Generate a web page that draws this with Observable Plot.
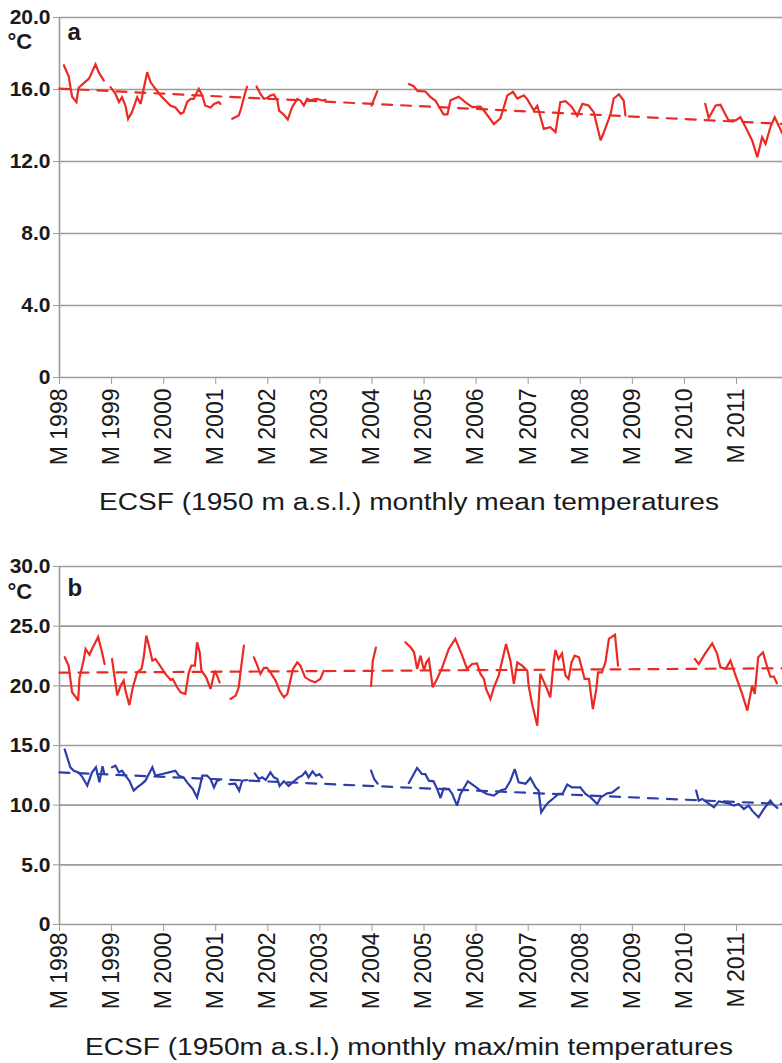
<!DOCTYPE html>
<html><head><meta charset="utf-8">
<script src="https://cdn.jsdelivr.net/npm/d3@7"></script>
<script src="https://cdn.jsdelivr.net/npm/@observablehq/plot@0.6"></script>
<style>
body{margin:0;background:#fff;font-family:"Liberation Sans",Arial,sans-serif;}
#chart{width:782px;}
#chart svg{display:block;}
</style></head><body><div id="chart"></div>
<script>
// x positions are months counted from M 1998
const tickMonths = [0,12,24,36,48,60,72,84,96,108,120,132,144,156];
const tickLabels = ["M 1998","M 1999","M 2000","M 2001","M 2002","M 2003","M 2004","M 2005","M 2006","M 2007","M 2008","M 2009","M 2010","M 2011"];

// panel a: monthly mean temperature [month, °C]; null = gap in record
const meanPoints = [
[1.0,17.35],[2.1,16.75],[2.9,15.6],[3.9,15.3],[4.4,16.1],[5.6,16.35],[6.8,16.6],[8.3,17.4],[9.05,16.95],[10.2,16.5], null,
[11.75,16.13],[12.9,15.76],[13.7,15.3],[14.4,15.57],[15.2,15.1],[15.8,14.37],[16.7,14.74],[17.9,15.57],[18.7,15.2],[19.4,16.04],[20.2,16.96],[21.0,16.4],[22.1,16.04],[23.3,15.67],[24.4,15.39],[25.6,15.1],[26.7,15.0],[27.9,14.65],[28.6,14.74],[29.4,15.3],[30.2,15.48],[30.9,15.48],[32.1,16.04],[32.9,15.67],[33.6,15.1],[34.8,15.0],[35.6,15.2],[36.7,15.3],[37.1,15.2], null,
[39.8,14.37],[41.3,14.56],[41.8,14.9],[42.5,15.57],[43.2,16.15], null,
[45.4,16.17],[46.3,15.76],[47.1,15.48],[47.9,15.53],[48.6,15.67],[49.4,15.72],[50.2,15.39],[50.6,14.83],[51.7,14.6],[52.6,14.33],[53.6,15.02],[54.8,15.48],[55.5,15.39],[56.3,15.11],[57.1,15.48],[57.8,15.39],[58.6,15.45],[59.4,15.48],[60.5,15.39],[61.3,15.43], null,
[71.9,15.1],[73.2,15.9], null,
[80.5,16.3],[81.6,16.18],[82.5,15.92],[84.3,15.89],[85.5,15.57],[86.6,15.39],[88.5,14.62],[89.4,14.62],[90.1,15.4],[92.0,15.6],[93.5,15.3],[95.1,15.02],[97.0,15.05],[97.8,14.83],[100.1,14.08],[101.6,14.4],[103.2,15.67],[104.5,15.87],[105.5,15.5],[107.0,15.68],[107.8,15.45],[109.3,14.83],[110.1,15.1],[111.6,13.81],[113.1,13.9],[114.3,13.63],[115.4,15.3],[116.6,15.35],[118.0,15.05],[119.3,14.54],[120.5,15.2],[121.9,15.11],[123.1,14.74],[124.7,13.17],[125.8,13.85],[127.0,14.65],[127.7,15.5],[128.9,15.73],[130.0,15.39],[130.4,14.56], null,
[148.8,15.2],[149.6,14.42],[151.2,15.11],[152.3,15.15],[153.5,14.59],[154.2,14.28],[155.8,14.28],[156.9,14.46],[158.1,13.9],[159.6,13.17],[160.8,12.24],[161.9,13.35],[162.7,12.98],[163.8,13.9],[164.8,14.46],[165.7,14.0],[166.6,13.54]
];
const meanTrend = [[0,16.05],[166.6,14.09]];

// panel b: monthly maximum temperature
const maxPoints = [
[1.2,22.4],[2.1,21.7],[2.9,19.46],[3.8,19.04],[4.3,18.76],[4.6,20.65],[5.6,22.2],[6.0,23.09],[6.9,22.6],[7.5,23.09],[8.9,24.1],[9.8,22.81],[10.4,21.83], null,
[12.1,22.25],[12.7,20.71],[13.3,19.2],[14.1,20.02],[14.8,20.44],[15.2,19.6],[16.1,18.38],[16.9,19.88],[17.9,21.13],[18.9,21.42],[19.4,22.39],[20.0,24.21],[20.6,23.37],[21.4,22.11],[22.1,22.25],[23.3,21.62],[24.4,21.0],[25.6,20.49],[26.1,20.58],[27.1,19.88],[27.9,19.46],[29.0,19.32],[29.8,21.13],[30.4,21.69],[31.2,21.69],[31.7,23.65],[32.3,22.81],[32.7,21.27],[33.8,20.71],[34.8,19.74],[35.8,21.27],[36.3,20.86],[36.9,20.29], null,
[39.4,18.9],[40.6,19.18],[41.3,19.88],[41.7,21.13],[42.5,23.37], null,
[44.8,22.39],[45.5,21.78],[46.3,21.0],[47.1,21.5],[47.8,21.5],[48.6,21.13],[49.8,20.44],[50.7,19.6],[51.7,19.04],[52.5,19.32],[53.2,20.44],[53.8,21.42],[54.8,21.97],[55.5,21.69],[56.6,20.71],[57.8,20.44],[58.9,20.29],[60.1,20.58],[60.9,21.27], null,
[71.8,20.0],[72.2,22.1],[72.9,23.2], null,
[79.7,23.65],[80.9,23.23],[81.7,22.81],[82.4,21.42],[83.2,22.53],[84.0,21.27],[84.5,21.97],[85.1,22.25],[86.0,19.88],[87.0,20.58],[88.2,21.55],[89.7,23.09],[91.2,23.93],[92.8,22.53],[93.9,21.42],[95.1,21.83],[96.2,21.88],[97.0,21.0],[97.8,20.58],[98.3,19.74],[99.3,18.9],[100.1,19.88],[101.2,20.86],[102.0,22.11],[102.9,23.51],[103.9,22.11],[104.7,20.16],[105.5,21.97],[106.6,21.69],[107.8,21.27],[108.1,20.02],[108.9,18.48],[110.1,16.66],[110.8,21.0],[112.0,20.02],[113.1,19.04],[113.9,22.11],[114.3,23.0],[115.0,22.25],[115.8,22.72],[116.6,20.86],[117.3,20.58],[118.0,21.97],[118.7,22.53],[119.7,22.39],[120.4,21.42],[121.0,20.58],[122.0,20.58],[122.9,18.06],[123.7,19.74],[124.1,21.13],[125.0,21.13],[125.8,21.97],[126.6,23.93],[128.0,24.29],[128.7,21.69], null,
[146.4,22.25],[147.3,21.83],[148.8,22.72],[150.4,23.56],[151.5,22.72],[152.3,21.55],[153.5,21.42],[154.6,22.11],[155.8,20.86],[157.3,19.32],[158.5,17.92],[159.6,20.02],[160.2,19.32],[161.0,22.39],[162.1,22.81],[163.1,21.55],[163.8,20.77],[164.6,20.77],[165.3,20.21]
];
const maxTrend = [[0,21.1],[166.6,21.47]];

// panel b: monthly minimum temperature
const minPoints = [
[1.2,14.67],[2.5,13.17],[3.3,12.89],[4.4,12.75],[5.2,12.4],[6.4,11.63],[7.5,12.75],[8.4,13.17],[9.2,11.91],[9.9,13.27],[10.3,12.67], null,
[12.1,13.17],[12.9,13.31],[13.7,12.75],[14.4,12.89],[15.2,12.47],[16.1,12.05],[17.1,11.22],[17.9,11.49],[18.9,11.77],[19.8,12.05],[20.6,12.61],[21.4,13.17],[22.1,12.47],[23.7,12.61],[25.2,12.75],[26.7,12.89],[27.5,12.47],[28.6,12.33],[29.4,11.91],[30.7,11.36],[31.7,10.65],[32.3,11.49],[32.9,12.47],[34.0,12.47],[34.8,12.19],[35.6,11.49],[36.3,12.05],[36.8,12.1], null,
[39.1,11.77],[40.5,11.8],[41.4,11.22],[42.1,12.05],[43.2,12.11], null,
[45.0,12.67],[45.9,12.19],[46.7,12.33],[47.5,12.11],[48.6,12.75],[49.4,12.33],[50.2,12.19],[50.7,11.6],[51.7,12.0],[52.8,11.6],[54.0,12.0],[55.1,12.33],[55.9,12.47],[56.7,12.8],[57.4,12.33],[58.3,12.83],[59.1,12.47],[59.9,12.6],[60.5,12.33], null,
[71.8,12.9],[72.5,12.2],[73.3,11.8], null,
[80.5,11.85],[82.4,13.12],[83.5,12.61],[84.3,12.6],[85.1,12.05],[86.2,12.0],[87.0,11.36],[87.8,10.6],[88.5,11.4],[89.7,11.36],[90.5,10.94],[91.6,9.96],[92.4,10.94],[94.1,12.0],[95.5,11.63],[97.0,11.22],[98.5,10.94],[100.1,10.8],[101.6,11.22],[102.8,11.36],[103.9,12.05],[104.9,13.03],[105.8,11.91],[107.4,11.8],[108.5,12.28],[109.7,11.49],[110.4,11.22],[111.0,9.4],[112.0,9.96],[112.7,10.24],[113.9,10.6],[115.0,10.94],[115.9,10.94],[117.0,11.72],[118.1,11.49],[120.0,11.49],[121.2,10.94],[122.4,10.65],[123.9,10.1],[124.7,10.65],[126.2,10.99],[127.3,11.05],[128.9,11.49], null,
[146.7,11.22],[147.3,10.38],[148.1,10.52],[149.2,10.24],[150.8,9.82],[151.9,10.32],[153.1,10.24],[154.2,10.15],[155.4,9.96],[156.5,10.1],[157.7,9.68],[158.8,9.96],[159.6,9.54],[161.1,8.98],[162.3,9.68],[163.8,10.38],[164.4,10.1],[165.4,9.77]
];
const minTrend = [[0,12.75],[166.6,10.1]];

const yTicksA = [0,4,8,12,16,20];
const yTicksB = [0,5,10,15,20,25,30];
const captionA = "ECSF (1950 m a.s.l.) monthly mean temperatures";
const captionB = "ECSF (1950m a.s.l.) monthly max/min temperatures";

const RED = "#ec2a24", BLUE = "#2e3ea8", GRID = "#9b9b9b", INK = "#1a1a1a";
const FONT = "'Liberation Sans', Arial, sans-serif";

const toRows = pts => pts.map(p => p ? {month: p[0], temp: p[1]} : {month: NaN, temp: NaN});

function panel(o) {
  const marks = [
    Plot.gridY(o.yTicks, {stroke: GRID, strokeOpacity: 1, strokeWidth: 1.6}),
    Plot.ruleX([0], {stroke: GRID, strokeWidth: 1.6}),
    Plot.axisY(o.yTicks, {tickSize: 6, tickPadding: 3, stroke: GRID, strokeOpacity: 1, fill: INK, fontSize: 21, fontWeight: "bold",
      tickFormat: d => d === 0 ? "0" : d.toFixed(1), label: null}),
    Plot.axisX(tickMonths, {tickSize: 7, stroke: GRID, strokeOpacity: 1, tickFormat: () => "", label: null}),
    Plot.text(tickMonths, {x: d => d, text: d => tickLabels[tickMonths.indexOf(d)], frameAnchor: "bottom", rotate: -90,
      textAnchor: "end", lineAnchor: "middle", fontSize: 23, fill: INK}),
    Plot.text(["°C"], {text: d => d, frameAnchor: "top-left", dx: -52, dy: o.degDy, textAnchor: "start", lineAnchor: "middle", fontWeight: "bold", fontSize: 22, fill: INK}),
    Plot.text([o.letter], {text: d => d, frameAnchor: "top-left", dx: 8, dy: o.letterDy, textAnchor: "start", lineAnchor: "middle", fontWeight: "bold", fontSize: 24, fill: INK})
  ];
  for (const s of o.series) {
    marks.push(Plot.line(toRows(s.trend), {x: "month", y: "temp", stroke: s.color, strokeWidth: 2.2, strokeDasharray: "10,9"}));
    marks.push(Plot.line(toRows(s.points), {x: "month", y: "temp", stroke: s.color, strokeWidth: 2.2, strokeLinejoin: "miter", strokeMiterlimit: 3}));
  }
  const svg = Plot.plot({
    width: 782, height: o.height,
    marginLeft: 59, marginRight: 0, marginTop: o.marginTop, marginBottom: o.marginBottom,
    x: {domain: [0, 166.6], axis: null},
    y: {domain: [0, o.yMax], axis: null},
    style: {fontFamily: FONT, background: "white", overflow: "visible"},
    marks
  });
  // push the rotated tick labels down, below the tick marks (screen-space shift)
  const labels = new Set(tickLabels);
  d3.select(svg).selectAll("text").filter(function() { return labels.has(this.textContent); }).each(function() {
    const t = this.getAttribute("transform") || "";
    this.setAttribute("transform", `translate(0,${o.labelDy}) ${t}`);
  });
  return svg;
}

function caption(text, h, baseline, len) {
  const svg = d3.create("svg").attr("width", 782).attr("height", h);
  svg.append("text").attr("x", 409).attr("y", baseline).attr("text-anchor", "middle")
    .attr("font-family", FONT).attr("font-size", 23).attr("fill", INK)
    .attr("textLength", len).attr("lengthAdjust", "spacingAndGlyphs").text(text);
  return svg.node();
}

const root = document.getElementById("chart");
root.append(panel({height: 470, marginTop: 17, marginBottom: 93, yMax: 20, yTicks: yTicksA, labelDy: 11, degDy: 24, letterDy: 15, letter: "a",
  series: [{points: meanPoints, trend: meanTrend, color: RED}]}));
root.append(caption(captionA, 60, 40, 620));
root.append(panel({height: 484, marginTop: 36, marginBottom: 90, yMax: 30, yTicks: yTicksB, labelDy: 8, degDy: 25, letterDy: 22, letter: "b",
  series: [{points: maxPoints, trend: maxTrend, color: RED}, {points: minPoints, trend: minTrend, color: BLUE}]}));
root.append(caption(captionB, 49, 41, 648));
</script></body></html>
